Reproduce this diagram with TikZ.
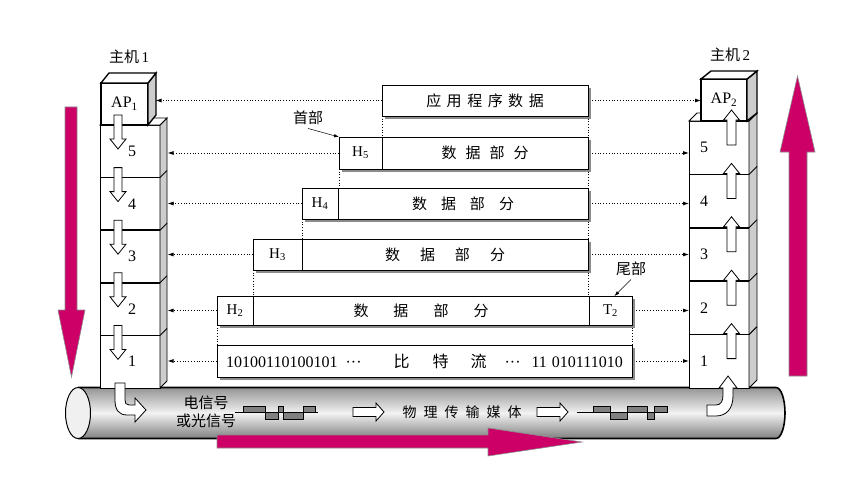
\documentclass[tikz,border=0pt]{standalone}
\usepackage{fontspec}
\setmainfont{Liberation Serif}
\newfontfamily\zh{Noto Sans CJK SC}
\usetikzlibrary{arrows.meta,calc,shadows}
\definecolor{flowred}{RGB}{204,0,102}
\definecolor{sidegray}{RGB}{205,205,205}
\definecolor{wavegray}{RGB}{128,128,128}
\newcommand{\fsz}[1]{\fontsize{#1pt}{#1pt}\selectfont}
\newcommand{\tridot}{\textperiodcentered\textperiodcentered\textperiodcentered}
\tikzset{
  layer/.style={draw=black,line width=0.9pt,fill=white,minimum width=60pt,inner sep=0pt,outer sep=0pt},
  apbox/.style={layer,line width=1.8pt,font=\fsz{16}},
  side/.style={draw=black,line width=0.9pt,fill=sidegray},
  topface/.style={draw=black,line width=0.9pt,fill=white},
  num/.style={font=\fsz{16}},
  cell/.style={draw=black,line width=0.9pt,fill=white,inner sep=0pt,outer sep=0pt,font=\fsz{15},
    drop shadow={shadow xshift=3pt,shadow yshift=-3pt,fill=black!45,opacity=1}},
  cn/.style={font=\zh\fsz{15}},
  link/.style={dotted,line width=0.8pt,-{Latex[length=6pt,width=4pt]}},
  guide/.style={dotted,line width=0.7pt},
  hollow/.style={draw=black,line width=0.8pt,fill=white},
  bigflow/.style={fill=flowred,draw=black!45,line width=0.6pt},
  wave/.style={draw=black,line width=0.6pt,fill=wavegray},
  callout/.style={line width=0.5pt,-{Latex[length=5pt,width=3.5pt]}},
  thickdiv/.style={line width=1.8pt},
}

\begin{document}
\begin{tikzpicture}[x=1pt,y=-1pt]
  \path[use as bounding box] (0,0) rectangle (850,492);

  % transmission medium
  \shade[top color=black!42,bottom color=black!50,middle color=black!5]
    (78,387.5) -- (776,387.5) arc[start angle=90,end angle=-90,x radius=9pt,y radius=25.5pt]
    -- (78,438.5) -- cycle;
  \draw[line width=1.6pt] (78,387.5) -- (776,387.5)
    arc[start angle=90,end angle=-90,x radius=9pt,y radius=25.5pt] -- (78,438.5);
  \draw[line width=1pt,fill=black!6] (78,413) ellipse[x radius=12.5pt,y radius=25.5pt];

  % host 1
  \foreach \k in {1,...,5} {
    \pgfmathsetmacro{\yc}{388-52.6*(\k-0.5)}
    \node[layer,minimum height=52.6pt] (L\k) at (130,\yc) {};
    \node[num] at ($(L\k.center)+(2,0)$) {\k};
  }
  \draw[side] (L1.south east) -- (L5.north east) -- ++(7,-7) -- ($(L1.south east)+(7,-7)$) -- cycle;
  \draw[topface] (L5.north west) -- ++(7,-7) -- ++(60,0) -- (L5.north east) -- cycle;
  \foreach \k in {1,...,4} \draw[line width=0.9pt] (L\k.north east) -- ++(7,-7);
  \draw[thickdiv] (L4.south west) -- (L4.south east);
  \draw[thickdiv] (L3.south west) -- (L3.south east);
  \node[apbox,minimum width=47pt,minimum height=42pt] (AP1) at (124.5,104) {AP\textsubscript{1}};
  \draw[side,line width=1.4pt] (AP1.south east) -- (AP1.north east) -- ++(8,-10) -- ++(0,42) -- cycle;
  \draw[topface,line width=1.4pt] (AP1.north west) -- ++(8,-10) -- ++(47,0) -- (AP1.north east) -- cycle;
  \node[font=\fsz{15}] (host1) at (129,57) {{\zh 主机}\,1};
  \foreach \yt in {115,167.6,220.2,272.8,325.4}
    \draw[hollow] (114,\yt) -- (122,\yt) -- (122,\yt+24) -- (126,\yt+24) -- (118,\yt+34)
      -- (110,\yt+24) -- (114,\yt+24) -- cycle;

  % host 2
  \foreach \k in {1,...,5} {
    \pgfmathsetmacro{\yc}{388-53.4*(\k-0.5)}
    \node[layer,minimum height=53.4pt] (R\k) at (719,\yc) {};
    \node[num] at ($(R\k.center)+(-15,0)$) {\k};
  }
  \draw[side] (R1.south east) -- (R5.north east) -- ++(8,-8) -- ($(R1.south east)+(8,-8)$) -- cycle;
  \draw[topface] (R5.north west) -- ++(8,-8) -- ++(60,0) -- (R5.north east) -- cycle;
  \foreach \k in {1,...,4} \draw[line width=0.9pt] (R\k.north east) -- ++(8,-8);
  \draw[thickdiv] (R5.south west) -- (R5.south east);
  \draw[thickdiv] (R4.south west) -- (R4.south east);
  \draw[thickdiv] (R3.south west) -- (R3.south east);
  \node[apbox,minimum width=46pt,minimum height=42pt] (AP2) at (724,100) {AP\textsubscript{2}};
  \draw[side,line width=1.4pt] (AP2.south east) -- (AP2.north east) -- ++(10,-8) -- ++(0,42) -- cycle;
  \draw[topface,line width=1.4pt] (AP2.north west) -- ++(10,-8) -- ++(46,0) -- (AP2.north east) -- cycle;
  \node[font=\fsz{15}] (host2) at (730,55) {{\zh 主机}\,2};
  \foreach \yt in {110,163.4,216.8,270.2,323.6}
    \draw[hollow] (731.5,\yt) -- (739.5,\yt+10) -- (736,\yt+10) -- (736,\yt+35) -- (727,\yt+35)
      -- (727,\yt+10) -- (723.5,\yt+10) -- cycle;

  % data units
  \node[cell,minimum width=206pt,minimum height=31pt] (app) at (485,100.5)
    {\zh 应\hspace{5.5pt}用\hspace{5.5pt}程\hspace{5.5pt}序\hspace{5.5pt}数\hspace{5.5pt}据};
  \node[cell,minimum width=43pt,minimum height=32pt] (H5) at (360.5,153) {H\textsubscript{5}};
  \node[cell,minimum width=206pt,minimum height=32pt,anchor=west] (D5) at (H5.east)
    {\zh 数\hspace{9pt}据\hspace{9pt}部\hspace{9pt}分};
  \node[cell,minimum width=36pt,minimum height=31pt] (H4) at (320,203.5) {H\textsubscript{4}};
  \node[cell,minimum width=250pt,minimum height=31pt,anchor=west] (D4) at (H4.east)
    {\zh 数\hspace{14pt}据\hspace{14pt}部\hspace{14pt}分};
  \node[cell,minimum width=49pt,minimum height=31pt] (H3) at (277.5,254.5) {H\textsubscript{3}};
  \node[cell,minimum width=286pt,minimum height=31pt,anchor=west] (D3) at (H3.east)
    {\zh 数\hspace{20pt}据\hspace{20pt}部\hspace{20pt}分};
  \node[cell,minimum width=36pt,minimum height=29pt] (H2) at (235,310.5) {H\textsubscript{2}};
  \node[cell,minimum width=336pt,minimum height=29pt,anchor=west] (D2) at (H2.east)
    {\zh 数\hspace{25pt}据\hspace{25pt}部\hspace{25pt}分};
  \node[cell,minimum width=43pt,minimum height=29pt,anchor=west] (T2) at (D2.east) {T\textsubscript{2}};
  \node[cell,minimum width=415pt,minimum height=32pt,font=\fsz{16}] (bits) at (424.5,361)
    {10100110100101\hspace{8pt}\tridot\hspace{32pt}{\zh 比}\hspace{23pt}{\zh 特}\hspace{22pt}{\zh 流}\hspace{18pt}\tridot\hspace{11pt}11\hspace{5pt}010111010};

  \draw[guide] (app.south west) -- (D5.north west);
  \draw[guide] (app.south east) -- (D5.north east);
  \draw[guide] (H5.south west) -- (H5.south west |- D4.north);
  \draw[guide] (D5.south east) -- (D4.north east);
  \draw[guide] (H4.south west) -- (D3.north west);
  \draw[guide] (D4.south east) -- (D3.north east);
  \draw[guide] (H3.south west) -- (D2.north west);
  \draw[guide] (D3.south east) -- (D3.south east |- D2.north);
  \draw[guide] (H2.south west) -- (bits.north west);
  \draw[guide] (T2.south east) -- (bits.north east);

  \foreach \lb/\rb/\lt/\rt in {app/app/AP1/AP2,H5/D5/L5/R5,H4/D4/L4/R4,H3/D3/L3/R3,H2/T2/L2/R2,bits/bits/L1/R1} {
    \draw[link] (\lb.west) -- ($(\lb.west -| \lt.east)+(7.5,0)$);
    \draw[link] ($(\rb.east)+(4,0)$) -- (\rb.east -| \rt.west);
  }

  \node[cn] (head) at (308,118) {首部};
  \draw[callout] (head.south) -- (H5.north west);
  \node[cn] (tail) at (631,269) {尾部};
  \draw[callout] (tail.south) -- ($(T2.north)+(4,0)$);

  % signals on the medium
  \node[font=\zh\fontsize{15pt}{18pt}\selectfont,align=center] (sig) at (206,412) {电信号\\或光信号};
  \draw[line width=0.6pt] (235,412) -- (318,412);
  \foreach \a/\b/\h in {243/265/-6,265/278/7,278/283/-6,283/303/7,303/315/-6}
    \draw[wave] (\a,412) rectangle (\b,412+\h);
  \draw[line width=0.6pt] (577,412) -- (593,412);
  \foreach \a/\b/\h in {593/610/-6,610/627/7,627/647/-6,647/654/7,654/667/-6}
    \draw[wave] (\a,412) rectangle (\b,412+\h);
  \foreach \xa in {353,537}
    \draw[hollow] (\xa,407.5) -- (\xa+23,407.5) -- (\xa+23,403) -- (\xa+31,412) -- (\xa+23,421)
      -- (\xa+23,416.5) -- (\xa,416.5) -- cycle;
  \node[font=\zh\fsz{14}] (medium) at (462,412)
    {物\hspace{7pt}理\hspace{7pt}传\hspace{7pt}输\hspace{7pt}媒\hspace{7pt}体};

  \draw[hollow] (115,383) -- (115,400) .. controls (115,410) and (119,415) .. (127,415) -- (135,415)
    -- (135,422) -- (146,410) -- (135,398) -- (135,405) -- (129,405)
    .. controls (126,405) and (125,403) .. (125,400) -- (125,383) -- cycle;
  \draw[hollow] (707,405) -- (716,405) .. controls (721,405) and (723,401) .. (723,395) -- (723,388)
    -- (719,388) -- (728,376) -- (737,388) -- (733,388) -- (733,396)
    .. controls (733,409) and (726,416) .. (716,416) -- (707,416) -- cycle;

  % direction of flow
  \draw[bigflow] (65,107) -- (77,107) -- (77,310) -- (85,310) -- (71.5,377) -- (58,310) -- (65,310) -- cycle;
  \draw[bigflow] (789,376) -- (789,152) -- (780,152) -- (797.5,76) -- (815,152) -- (807,152) -- (807,376) -- cycle;
  \draw[bigflow] (217,435) -- (488,435) -- (488,428) -- (582,442) -- (488,456) -- (488,448) -- (217,448) -- cycle;
\end{tikzpicture}
\end{document}
